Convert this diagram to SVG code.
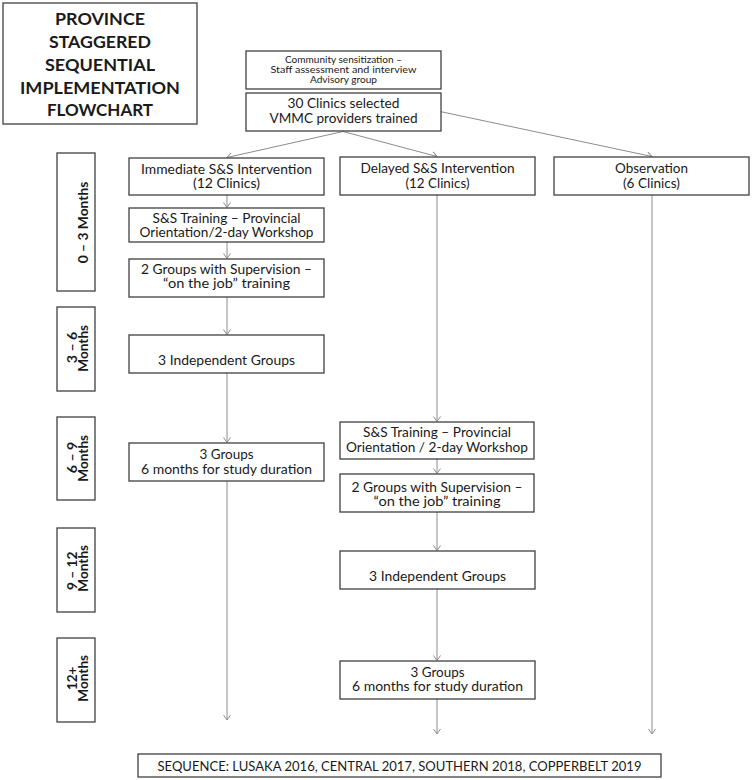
<svg xmlns="http://www.w3.org/2000/svg" width="755" height="780" viewBox="0 0 755 780">
<style>
.box{fill:#ffffff;stroke:#404040;stroke-width:1.3}
.t{font-family:Lato,"Open Sans","Liberation Sans",sans-serif;fill:#1a1a1a;text-anchor:middle}
.b{font-size:12.6px}
.s{font-size:8.6px}
.ti{font-size:17.5px;font-weight:bold}
.tl{font-size:12.5px;font-weight:bold}
.seq{font-size:13.4px}
.c{stroke:#8c8c8c;stroke-width:1;fill:none;marker-end:url(#ah)}
</style>
<defs>
<marker id="ah" viewBox="-6 -4 7 8" refX="0" refY="0" markerWidth="7" markerHeight="8" markerUnits="userSpaceOnUse" orient="auto" overflow="visible">
<path d="M-5,-3.5 L0,0 L-5,3.5" fill="none" stroke="#8c8c8c" stroke-width="1"/>
</marker>
</defs>
<rect width="755" height="780" fill="#ffffff"/>

<g id="connectors">
<line class="c" x1="343" y1="131.5" x2="227" y2="157.5"/>
<line class="c" x1="343" y1="131.5" x2="437" y2="156.5"/>
<line class="c" x1="441" y1="111.7" x2="652" y2="156.5"/>
<line class="c" x1="227" y1="195" x2="227" y2="207.5"/>
<line class="c" x1="227" y1="242" x2="227" y2="258.5"/>
<line class="c" x1="227" y1="297" x2="227" y2="334.5"/>
<line class="c" x1="227" y1="373" x2="227" y2="442.5"/>
<line class="c" x1="227" y1="481" x2="227" y2="720"/>
<line class="c" x1="437" y1="195" x2="437" y2="421.5"/>
<line class="c" x1="437" y1="459" x2="437" y2="473.5"/>
<line class="c" x1="437" y1="512" x2="437" y2="550.5"/>
<line class="c" x1="437" y1="589" x2="437" y2="660.5"/>
<line class="c" x1="437" y1="699" x2="437" y2="734"/>
<line class="c" x1="652" y1="195" x2="652" y2="734"/>
</g>

<g id="title">
<rect class="box" x="3" y="3" width="194" height="121" stroke-width="1.6"/>
<text class="t ti" x="100" y="25" textLength="90" lengthAdjust="spacingAndGlyphs">PROVINCE</text>
<text class="t ti" x="100" y="48" textLength="102" lengthAdjust="spacingAndGlyphs">STAGGERED</text>
<text class="t ti" x="100" y="71" textLength="110" lengthAdjust="spacingAndGlyphs">SEQUENTIAL</text>
<text class="t ti" x="100" y="93.5" textLength="160" lengthAdjust="spacingAndGlyphs">IMPLEMENTATION</text>
<text class="t ti" x="100" y="116" textLength="106" lengthAdjust="spacingAndGlyphs">FLOWCHART</text>
</g>

<g id="community">
<rect class="box" x="246" y="51" width="195" height="38"/>
<text class="t s" x="343.5" y="63" textLength="117" lengthAdjust="spacingAndGlyphs">Community sensitization –</text>
<text class="t s" x="343.5" y="72.5" textLength="146" lengthAdjust="spacingAndGlyphs">Staff assessment and interview</text>
<text class="t s" x="343.5" y="82.5" textLength="67" lengthAdjust="spacingAndGlyphs">Advisory group</text>
</g>

<g id="clinics">
<rect class="box" x="246" y="93" width="195" height="38"/>
<text class="t b" x="343.5" y="108.3" textLength="112" lengthAdjust="spacingAndGlyphs" style="font-size:13.2px">30 Clinics selected</text>
<text class="t b" x="343.5" y="123.3" textLength="148" lengthAdjust="spacingAndGlyphs" style="font-size:13.2px">VMMC providers trained</text>
</g>

<g id="immediate">
<rect class="box" x="129" y="158" width="195" height="37"/>
<text class="t b" x="226.5" y="174" textLength="171" lengthAdjust="spacingAndGlyphs">Immediate S&amp;S Intervention</text>
<text class="t b" x="226.5" y="188.3" textLength="67" lengthAdjust="spacingAndGlyphs">(12 Clinics)</text>
</g>

<g id="delayed">
<rect class="box" x="340" y="157" width="195" height="38"/>
<text class="t b" x="437.5" y="173.3" textLength="154" lengthAdjust="spacingAndGlyphs">Delayed S&amp;S Intervention</text>
<text class="t b" x="437.5" y="188.3" textLength="64" lengthAdjust="spacingAndGlyphs">(12 Clinics)</text>
</g>

<g id="observation">
<rect class="box" x="554" y="157" width="195" height="38"/>
<text class="t b" x="651.5" y="173.3" textLength="73" lengthAdjust="spacingAndGlyphs">Observation</text>
<text class="t b" x="651.5" y="188.3" textLength="57" lengthAdjust="spacingAndGlyphs">(6 Clinics)</text>
</g>

<g id="imm-training">
<rect class="box" x="129" y="208" width="195" height="34"/>
<text class="t b" x="226.5" y="223" textLength="148" lengthAdjust="spacingAndGlyphs">S&amp;S Training – Provincial</text>
<text class="t b" x="226.5" y="237" textLength="174" lengthAdjust="spacingAndGlyphs">Orientation/2-day Workshop</text>
</g>

<g id="imm-supervision">
<rect class="box" x="129" y="259" width="195" height="38"/>
<text class="t b" x="226.5" y="274" textLength="171" lengthAdjust="spacingAndGlyphs">2 Groups with Supervision –</text>
<text class="t b" x="226.5" y="288.3" textLength="127" lengthAdjust="spacingAndGlyphs">“on the job” training</text>
</g>

<g id="imm-independent">
<rect class="box" x="129" y="335" width="195" height="38"/>
<text class="t b" x="226.5" y="365" textLength="137" lengthAdjust="spacingAndGlyphs">3 Independent Groups</text>
</g>

<g id="imm-groups">
<rect class="box" x="129" y="443" width="195" height="38"/>
<text class="t b" x="226.5" y="459.3" textLength="54" lengthAdjust="spacingAndGlyphs">3 Groups</text>
<text class="t b" x="226.5" y="474" textLength="171" lengthAdjust="spacingAndGlyphs">6 months for study duration</text>
</g>

<g id="del-training">
<rect class="box" x="340" y="422" width="194" height="37"/>
<text class="t b" x="437" y="436.7" textLength="148" lengthAdjust="spacingAndGlyphs">S&amp;S Training – Provincial</text>
<text class="t b" x="437" y="451.7" textLength="182" lengthAdjust="spacingAndGlyphs">Orientation / 2-day Workshop</text>
</g>

<g id="del-supervision">
<rect class="box" x="340" y="474" width="194" height="38"/>
<text class="t b" x="437" y="491.7" textLength="171" lengthAdjust="spacingAndGlyphs">2 Groups with Supervision –</text>
<text class="t b" x="437" y="506" textLength="127" lengthAdjust="spacingAndGlyphs">“on the job” training</text>
</g>

<g id="del-independent">
<rect class="box" x="340" y="551" width="195" height="38"/>
<text class="t b" x="437.5" y="581" textLength="137" lengthAdjust="spacingAndGlyphs">3 Independent Groups</text>
</g>

<g id="del-groups">
<rect class="box" x="340" y="661" width="195" height="38"/>
<text class="t b" x="437.5" y="676.7" textLength="54" lengthAdjust="spacingAndGlyphs">3 Groups</text>
<text class="t b" x="437.5" y="690.7" textLength="171" lengthAdjust="spacingAndGlyphs">6 months for study duration</text>
</g>

<g id="t0-3">
<rect class="box" x="57" y="153" width="38" height="138"/>
<text class="t tl" transform="translate(88.3,222.5) rotate(-90)" textLength="81.6" lengthAdjust="spacingAndGlyphs" style="font-size:14px">0 – 3 Months</text>
</g>

<g id="t3-6">
<rect class="box" x="57" y="307" width="38" height="84"/>
<text class="t tl" transform="translate(76.5,347.5) rotate(-90)" textLength="31.6" lengthAdjust="spacingAndGlyphs">3 – 6</text>
<text class="t tl" transform="translate(88.3,348.3) rotate(-90)" textLength="46.7" lengthAdjust="spacingAndGlyphs">Months</text>
</g>

<g id="t6-9">
<rect class="box" x="57" y="417" width="38" height="83"/>
<text class="t tl" transform="translate(76.5,457.5) rotate(-90)" textLength="31.6" lengthAdjust="spacingAndGlyphs">6 – 9</text>
<text class="t tl" transform="translate(88.3,458.3) rotate(-90)" textLength="46.7" lengthAdjust="spacingAndGlyphs">Months</text>
</g>

<g id="t9-12">
<rect class="box" x="57" y="528" width="38" height="84"/>
<text class="t tl" transform="translate(76.5,570.8) rotate(-90)" textLength="38.3" lengthAdjust="spacingAndGlyphs">9 – 12</text>
<text class="t tl" transform="translate(88.3,568.3) rotate(-90)" textLength="46.7" lengthAdjust="spacingAndGlyphs">Months</text>
</g>

<g id="t12plus">
<rect class="box" x="57" y="638" width="38" height="84"/>
<text class="t tl" transform="translate(76.5,678.3) rotate(-90)" textLength="23.3" lengthAdjust="spacingAndGlyphs">12+</text>
<text class="t tl" transform="translate(88.3,678.3) rotate(-90)" textLength="46.7" lengthAdjust="spacingAndGlyphs">Months</text>
</g>

<g id="sequence">
<rect class="box" x="138" y="754" width="523" height="23"/>
<text class="t seq" x="399.5" y="771" textLength="484" lengthAdjust="spacingAndGlyphs">SEQUENCE: LUSAKA 2016, CENTRAL 2017, SOUTHERN 2018, COPPERBELT 2019</text>
</g>
</svg>
